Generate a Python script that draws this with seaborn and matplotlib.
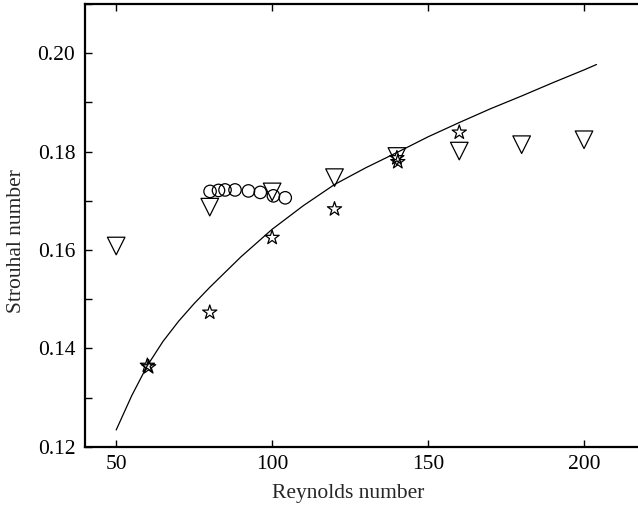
import matplotlib
matplotlib.use("Agg")
import matplotlib.pyplot as plt
import seaborn as sns
from matplotlib.ticker import MultipleLocator, FormatStrFormatter

sns.set_style("ticks")
plt.rcParams['font.family'] = ['Liberation Serif', 'DejaVu Serif']

# fitted curve
curve_re = [50, 55, 60, 65, 70, 75, 80, 90, 100, 110, 120, 130, 140, 150, 160, 170, 180, 190, 200, 204]
curve_st = [0.1234, 0.1304, 0.1365, 0.1414, 0.1455, 0.1491, 0.1524, 0.1586, 0.1642, 0.1690,
            0.1733, 0.1767, 0.1798, 0.1830, 0.1859, 0.1887, 0.1913, 0.1940, 0.1966, 0.1977]

# triangles
tri_re = [50, 80, 100, 120, 140, 160, 180, 200]
tri_st = [0.1608, 0.1687, 0.1718, 0.1747, 0.1790, 0.1801, 0.1814, 0.1824]

# stars
star_re = [60, 60.4, 80, 100, 120, 140, 140.3, 160]
star_st = [0.1365, 0.1362, 0.1473, 0.1625, 0.1683, 0.1787, 0.1779, 0.1839]

# circles
circ_re = [80.1, 82.8, 84.9, 88.1, 92.4, 96.2, 100.4, 104.2]
circ_st = [0.1719, 0.1721, 0.1722, 0.1722, 0.1720, 0.1717, 0.1710, 0.1706]

fig = plt.figure(figsize=(6.38, 5.11), dpi=100)
ax = fig.add_axes([85/638, 64.3/511, (646.4-85)/638, (446.7-4)/511])

sns.lineplot(x=curve_re, y=curve_st, ax=ax, color="black", linewidth=0.9, sort=False)
sns.scatterplot(x=circ_re, y=circ_st, ax=ax, marker="o", s=80, facecolor="none",
                edgecolor="black", linewidth=0.9)
sns.scatterplot(x=tri_re, y=tri_st, ax=ax, marker="v", s=160, facecolor="none",
                edgecolor="black", linewidth=0.9)
sns.scatterplot(x=star_re, y=star_st, ax=ax, marker="*", s=115, facecolor="none",
                edgecolor="black", linewidth=0.9)

ax.set_xlim(40, 220)
ax.set_ylim(0.12, 0.21)
ax.set_xticks([50, 100, 150, 200])
ax.yaxis.set_major_locator(MultipleLocator(0.02))
ax.yaxis.set_minor_locator(MultipleLocator(0.01))
ax.yaxis.set_major_formatter(FormatStrFormatter("%.2f"))
ax.tick_params(which="both", direction="in", length=5, width=1, top=True, right=True,
               labelsize=15.5, color="black", labelcolor="black")
ax.tick_params(axis="y", which="major", pad=7)
ax.tick_params(axis="x", which="major", pad=6)
ax.tick_params(axis="x", which="minor", top=False, bottom=False)
for s in ax.spines.values():
    s.set_linewidth(1.6)
    s.set_color("black")

# labels sit off-centre because the right part of the axes is cut off
ax.set_xlabel("Reynolds number", fontsize=15.5)
ax.set_ylabel("Strouhal number", fontsize=15.5)
ax.xaxis.set_label_coords(0.468, -0.085)
ax.yaxis.set_label_coords(-0.105, 0.465)

fig.savefig("out.png", dpi=100)
